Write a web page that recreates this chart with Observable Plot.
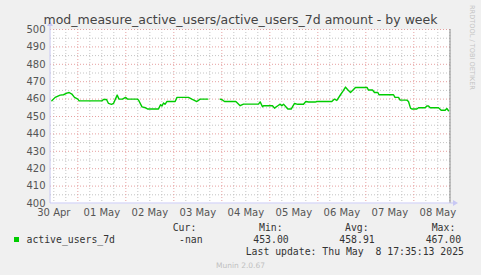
<!DOCTYPE html>
<html><head><meta charset="utf-8">
<script src="https://cdn.jsdelivr.net/npm/d3@7"></script>
<script src="https://cdn.jsdelivr.net/npm/@observablehq/plot@0.6"></script>
<style>html,body{margin:0;padding:0;background:#F0F0F0;} svg{display:block;}</style>
</head><body><div id="chart"></div>
<script>
const title = "mod_measure_active_users/active_users_7d amount - by week";
const seriesName = "active_users_7d";
const times = [
"2025-04-30T11:00Z","2025-04-30T12:40Z","2025-04-30T15:10Z","2025-04-30T16:50Z","2025-04-30T18:30Z","2025-04-30T19:40Z","2025-04-30T21:00Z","2025-04-30T22:20Z",
"2025-05-01T00:00Z","2025-05-01T00:40Z","2025-05-01T12:00Z","2025-05-01T12:50Z","2025-05-01T14:20Z","2025-05-01T15:20Z","2025-05-01T16:50Z","2025-05-01T17:50Z","2025-05-01T19:40Z","2025-05-01T20:35Z","2025-05-01T21:20Z","2025-05-01T22:20Z","2025-05-01T23:50Z",
"2025-05-02T00:50Z","2025-05-02T05:40Z","2025-05-02T06:20Z","2025-05-02T08:05Z","2025-05-02T09:50Z","2025-05-02T10:50Z","2025-05-02T16:20Z","2025-05-02T17:20Z","2025-05-02T18:05Z","2025-05-02T18:50Z","2025-05-02T19:35Z","2025-05-02T20:30Z",
"2025-05-03T00:40Z","2025-05-03T01:35Z","2025-05-03T07:20Z","2025-05-03T09:00Z","2025-05-03T11:30Z","2025-05-03T13:10Z","2025-05-03T17:00Z","2025-05-03T22:00Z","2025-05-03T23:10Z",
"2025-05-04T00:20Z","2025-05-04T01:20Z","2025-05-04T07:00Z","2025-05-04T09:10Z","2025-05-04T10:50Z","2025-05-04T18:20Z","2025-05-04T19:10Z","2025-05-04T20:20Z","2025-05-04T20:50Z",
"2025-05-05T01:20Z","2025-05-05T02:20Z","2025-05-05T04:00Z","2025-05-05T05:10Z","2025-05-05T06:00Z","2025-05-05T06:50Z","2025-05-05T08:00Z","2025-05-05T09:00Z","2025-05-05T10:40Z","2025-05-05T12:20Z","2025-05-05T14:00Z","2025-05-05T16:50Z","2025-05-05T18:00Z","2025-05-05T19:20Z","2025-05-05T22:40Z","2025-05-05T23:30Z",
"2025-05-06T07:00Z","2025-05-06T08:20Z","2025-05-06T09:30Z","2025-05-06T11:20Z","2025-05-06T12:50Z","2025-05-06T13:50Z","2025-05-06T14:50Z","2025-05-06T16:20Z","2025-05-06T17:50Z","2025-05-06T18:50Z",
"2025-05-07T00:35Z","2025-05-07T01:20Z","2025-05-07T03:20Z","2025-05-07T04:20Z","2025-05-07T06:00Z","2025-05-07T06:35Z","2025-05-07T13:50Z","2025-05-07T14:35Z","2025-05-07T16:20Z","2025-05-07T17:10Z","2025-05-07T20:30Z","2025-05-07T21:20Z","2025-05-07T22:20Z","2025-05-07T23:00Z",
"2025-05-08T01:30Z","2025-05-08T02:20Z","2025-05-08T05:40Z","2025-05-08T06:30Z","2025-05-08T07:20Z","2025-05-08T08:10Z","2025-05-08T12:20Z","2025-05-08T13:40Z","2025-05-08T15:40Z","2025-05-08T16:30Z","2025-05-08T17:20Z"
];
const values = [
459,461,462.3,462.5,463.4,463.8,462.9,461,
460,459,459,459.8,459.8,457.5,457,457.5,462.3,460,460,460,461,
460,460,459.5,455.5,455,454.3,454.3,456.8,456,457.8,457,458.6,
458.6,461,461,460,458.6,460,460,null,460,
459.5,458.6,458.6,456.2,457.1,457.1,458.4,455.6,456.2,
456.2,454.8,456.2,457.1,456.2,457.1,455.6,454.3,454.3,457.5,457,457,458.6,458.3,458.3,458.6,
458.6,460,459.2,462.5,465,466.9,465.5,463.8,465.5,466.7,
466.7,465.2,465.2,463.8,463.8,462.5,462.5,461,461,459.4,459.4,458.6,454.8,454.3,
454.3,455,455,456,456,455,455,453.6,453.6,454.6,453.3
];
const dayLabels = ["30 Apr","01 May","02 May","03 May","04 May","05 May","06 May","07 May","08 May"];
const dayNoons = ["2025-04-30T12:00Z","2025-05-01T12:00Z","2025-05-02T12:00Z","2025-05-03T12:00Z","2025-05-04T12:00Z","2025-05-05T12:00Z","2025-05-06T12:00Z","2025-05-07T12:00Z","2025-05-08T12:00Z"];
const yTicks = [400,410,420,430,440,450,460,470,480,490,500];
const statLabels = ["Cur:","Min:","Avg:","Max:"];
const statValues = ["-nan","453.00","458.91","467.00"];
const lastUpdate = "Last update: Thu May  8 17:35:13 2025";
const footer = "Munin 2.0.67";
const sideNote = "RRDTOOL / TOBI OETIKER";

const x0 = new Date("2025-04-30T10:20Z"), x1 = new Date("2025-05-08T18:20Z");
const data = times.map((t,i)=>({t:new Date(t), v:values[i]}));
const minorX = d3.utcHour.every(6).range(x0,x1).filter(d=>d.getUTCHours()!==0);
const majorX = d3.utcDay.range(x0,x1);
const minorY = d3.range(405,500,10);
const majorY = d3.range(410,501,10);
const labelMap = new Map(dayNoons.map((d,i)=>[+new Date(d), dayLabels[i]]));

const plot = Plot.plot({
  width:481, height:275, marginLeft:50, marginRight:31, marginTop:29, marginBottom:72,
  style:{background:"#F0F0F0", fontFamily:"'DejaVu Sans', sans-serif", fontSize:"10px", color:"#555"},
  x:{type:"utc", domain:[x0,x1]},
  y:{domain:[400,500]},
  marks:[
    Plot.frame({fill:"white", stroke:null}),
    Plot.ruleX(minorX, {stroke:"#c4c4c4", strokeDasharray:"1,2"}),
    Plot.ruleY(minorY, {stroke:"#c4c4c4", strokeDasharray:"1,2"}),
    Plot.ruleX(majorX, {stroke:"#e6a0a0", strokeDasharray:"1,2"}),
    Plot.ruleY(majorY, {stroke:"#e6a0a0", strokeDasharray:"1,2"}),
    Plot.line(data, {x:"t", y:"v", stroke:"#00cc00", strokeWidth:1.4}),
    Plot.ruleX([x1], {stroke:"#888", strokeWidth:1, dx:-0.5}),
    Plot.axisY({ticks:yTicks, tickSize:0, tickPadding:5, label:null, fill:"#555"}),
    Plot.axisX({ticks:dayNoons.map(d=>new Date(d)), tickFormat:d=>labelMap.get(+d), tickSize:0, tickPadding:5, label:null, fill:"#555"})
  ]
});
document.getElementById("chart").appendChild(plot);

const svg = d3.select(plot);
const X = plot.scale("x"), Y = plot.scale("y");
const ax = X.apply(x0), ay = Y.apply(400), ytop = Y.apply(500);
const axisColor = "#c8c8f4";
svg.append("line").attr("x1",ax).attr("x2",ax).attr("y1",ay).attr("y2",ytop-6).attr("stroke",axisColor);
svg.append("line").attr("x1",ax).attr("x2",X.apply(x1)+5).attr("y1",ay).attr("y2",ay).attr("stroke",axisColor);
svg.append("path").attr("d",`M${ax-3},${ytop-3}L${ax+3},${ytop-3}L${ax},${ytop-8}Z`).attr("fill",axisColor);
const axr = X.apply(x1)+3;
svg.append("path").attr("d",`M${axr},${ay-3}L${axr},${ay+3}L${axr+5},${ay}Z`).attr("fill",axisColor);

svg.append("text").attr("x",240.5).attr("y",23.5).attr("text-anchor","middle")
  .attr("font-family","'DejaVu Sans', sans-serif").attr("font-size","12.5px").attr("fill","#444").text(title);

svg.append("text").attr("transform","translate(470,5) rotate(90)").attr("text-anchor","start")
  .attr("font-family","'DejaVu Sans', sans-serif").attr("font-size","6.6px").attr("fill","#c4c4c4").text(sideNote);

const mono = "'DejaVu Sans Mono', monospace";
function mtext(x, y, s) {
  return svg.append("text").attr("x",x).attr("y",y).attr("text-anchor","start")
    .attr("font-family",mono).attr("font-size","9.8px").attr("fill","#333").style("white-space","pre").text(s);
}
svg.append("rect").attr("x",14).attr("y",237).attr("width",5).attr("height",5).attr("fill","#00cc00");
mtext(26.5, 242.5, seriesName);
const labelX = [172.7,259,345,431.7];
const valueX = [179,253.3,339.3,425.7];
statLabels.forEach((s,i)=>mtext(labelX[i], 230.5, s));
statValues.forEach((s,i)=>mtext(valueX[i], 242.5, s));
mtext(245.7, 255, lastUpdate);
svg.append("text").attr("x",240.5).attr("y",268).attr("text-anchor","middle").attr("font-family","'DejaVu Sans', sans-serif").attr("font-size","7.5px").attr("fill","#c0c0c0").text(footer);
</script></body></html>
